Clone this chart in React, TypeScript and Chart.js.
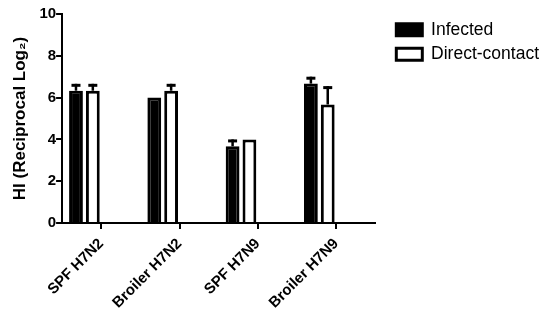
import { useEffect, useRef } from "react";
import { Chart, registerables } from "chart.js";

Chart.register(...registerables);

const categories = ["SPF H7N2", "Broiler H7N2", "SPF H7N9", "Broiler H7N9"];
const seriesNames = ["Infected", "Direct-contact"];
const infectedValues = [6.33, 6.0, 3.67, 6.67];
const infectedErrors = [0.33, 0, 0.33, 0.33];
const contactValues = [6.33, 6.33, 4.0, 5.67];
const contactErrors = [0.33, 0.33, 0, 0.88];
const yTickValues = [0, 2, 4, 6, 8, 10];
const yTitle = "HI (Reciprocal Log\u2082)";

const FONT = "'Liberation Sans', Arial, Helvetica, sans-serif";

const errorBarPlugin = {
  id: "errorBars",
  afterDatasetsDraw(chart: any) {
    const ctx = chart.ctx;
    const yScale = chart.scales.y;
    chart.data.datasets.forEach((ds: any, di: number) => {
      const errs: number[] | undefined = ds.errors;
      if (!errs) return;
      const meta = chart.getDatasetMeta(di);
      meta.data.forEach((bar: any, i: number) => {
        const e = errs[i];
        const v = ds.data[i];
        if (!e || v == null) return;
        const base = yScale.getPixelForValue(v);
        const top = yScale.getPixelForValue(v + e);
        ctx.save();
        ctx.strokeStyle = "#000";
        ctx.lineWidth = 2.5;
        ctx.beginPath();
        ctx.moveTo(bar.x, base);
        ctx.lineTo(bar.x, top);
        ctx.stroke();
        ctx.lineWidth = 3;
        ctx.beginPath();
        ctx.moveTo(bar.x - 4.5, top + 1.5);
        ctx.lineTo(bar.x + 4.5, top + 1.5);
        ctx.stroke();
        ctx.restore();
      });
    });
  },
};

export default function App() {
  const canvasRef = useRef<HTMLCanvasElement | null>(null);

  useEffect(() => {
    if (!canvasRef.current) return;
    const empty = categories.map(() => null);
    const common = {
      xAxisID: "x",
      yAxisID: "y",
      categoryPercentage: 0.86,
      barPercentage: 0.82,
    };
    const chart = new Chart(canvasRef.current, {
      type: "bar",
      data: {
        labels: categories,
        datasets: [
          {
            ...common,
            label: seriesNames[0],
            data: infectedValues,
            errors: infectedErrors,
            backgroundColor: "#000",
            borderColor: "#000",
            borderWidth: 3,
          } as any,
          {
            ...common,
            label: seriesNames[1],
            data: contactValues,
            errors: contactErrors,
            backgroundColor: "#fff",
            borderColor: "#000",
            borderWidth: 3,
          } as any,
          { ...common, label: "", data: empty } as any,
          { ...common, label: "", data: empty } as any,
        ],
      },
      options: {
        animation: false,
        responsive: true,
        maintainAspectRatio: false,
        layout: { padding: { top: 14, left: 10, right: 1, bottom: 5 } },
        plugins: {
          legend: {
            position: "right",
            align: "start",
            fullSize: false,
            maxWidth: 300,
            labels: {
              filter: (item: any) => item.text !== "",
              boxWidth: 26,
              boxHeight: 12,
              padding: 7,
              color: "#000",
              font: { family: FONT, size: 17.5 },
            },
          },
          tooltip: { enabled: false },
        },
        scales: {
          x: {
            type: "category",
            offset: true,
            grid: {
              display: true,
              drawOnChartArea: false,
              drawTicks: true,
              offset: false,
              tickLength: 6,
              color: "#000",
              lineWidth: 2,
            },
            border: { display: true, color: "#000", width: 2 },
            ticks: {
              color: "#000",
              font: { family: FONT, size: 15, weight: "bold" },
              minRotation: 45,
              maxRotation: 45,
              autoSkip: false,
              padding: 6,
            },
          },
          y: {
            min: 0,
            max: 10,
            afterBuildTicks: (axis: any) => {
              axis.ticks = yTickValues.map((v) => ({ value: v }));
            },
            grid: {
              display: true,
              drawOnChartArea: false,
              drawTicks: true,
              tickLength: 6,
              color: "#000",
              lineWidth: 2,
            },
            border: { display: true, color: "#000", width: 2 },
            ticks: {
              color: "#000",
              font: { family: FONT, size: 15, weight: "bold" },
              padding: 0,
            },
            title: {
              display: true,
              text: yTitle,
              color: "#000",
              font: { family: FONT, size: 17, weight: "bold" },
              padding: { top: 0, bottom: 9 },
            },
          },
          spacer: {
            type: "linear",
            axis: "y",
            position: "right",
            display: true,
            min: 0,
            max: 1,
            grid: { display: false },
            border: { display: false },
            ticks: { display: false },
            afterFit: (s: any) => {
              s.width = 14;
            },
          } as any,
        },
      },
      plugins: [errorBarPlugin],
    });
    return () => chart.destroy();
  }, []);

  return (
    <div style={{ position: "absolute", left: 0, top: 0, width: 550, height: 323 }}>
      <canvas ref={canvasRef} />
    </div>
  );
}
